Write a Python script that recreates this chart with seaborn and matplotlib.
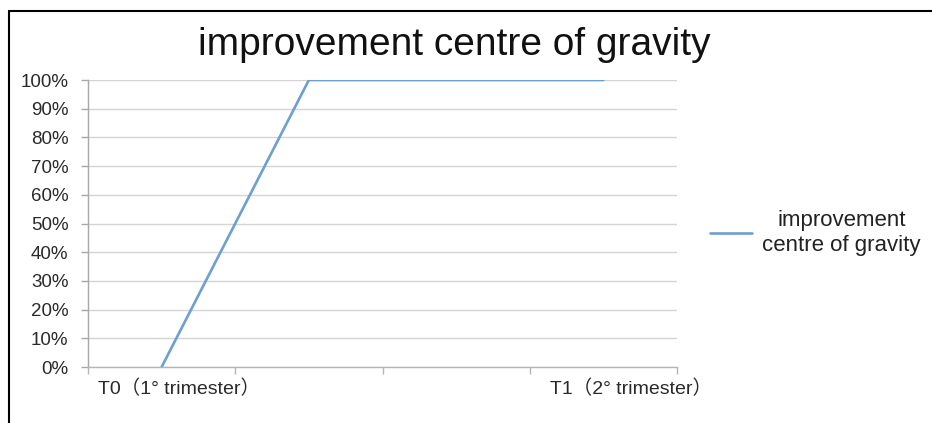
import matplotlib
matplotlib.use("Agg")
import matplotlib.pyplot as plt
import seaborn as sns
import pandas as pd
import numpy as np
from matplotlib.lines import Line2D
from matplotlib.ticker import FuncFormatter, FixedLocator
from matplotlib.transforms import blended_transform_factory, ScaledTranslation

# ---- data ----
categories = ["T0（1° trimester）", "", "", "T1（2° trimester）"]
values = [0.0, 1.0, 1.0, 1.0]
series_name = "improvement\ncentre of gravity"
title = "improvement centre of gravity"
yticks = [0, 0.1, 0.2, 0.3, 0.4, 0.5, 0.6, 0.7, 0.8, 0.9, 1.0]

sns.set_theme(style="white")
plt.rcParams["font.family"] = ["Liberation Sans", "Noto Sans CJK SC", "DejaVu Sans"]

W, H = 932, 423
fig = plt.figure(figsize=(W / 100, H / 100), dpi=100)
ax = fig.add_axes([88 / W, (H - 367) / H, (677 - 88) / W, (367 - 80) / H])

df = pd.DataFrame({"idx": np.arange(len(values)), "value": values, "series": series_name})
sns.lineplot(data=df, x="idx", y="value", hue="series", palette=["#6E9FD3"],
             linewidth=1.9, ax=ax)

n = len(categories)
ax.set_xlim(-0.5, n - 0.5)
ax.set_ylim(0, 1.0)
ax.set_xlabel("")
ax.set_ylabel("")

# y axis
ax.yaxis.set_major_locator(FixedLocator(yticks))
ax.yaxis.set_major_formatter(FuncFormatter(lambda v, p: f"{v*100:.0f}%"))
ax.grid(axis="y", color="#D4D4D4", linewidth=1.0)
ax.grid(axis="x", visible=False)
ax.tick_params(axis="y", length=5, width=1, color="#A8A8A8", pad=9,
               labelsize=13.5, labelcolor="#2A2A2A", left=True)

# x axis: boundary ticks, no labels
ax.xaxis.set_major_locator(FixedLocator(np.arange(n + 1) - 0.5))
ax.set_xticklabels([""] * (n + 1))
ax.tick_params(axis="x", length=5, width=1, color="#B5B5B5", bottom=True, direction="out")

trans = blended_transform_factory(ax.transData, ax.transAxes)
offsets = {0: 17, 3: 28}
for i, lab in enumerate(categories):
    if lab:
        t = trans + ScaledTranslation(offsets.get(i, 0) / 100, 0, fig.dpi_scale_trans)
        ax.text(i, -0.075, lab, transform=t, ha="center", va="center",
                fontsize=14, color="#2A2A2A")

for s in ["top", "right"]:
    ax.spines[s].set_visible(False)
ax.spines["left"].set_color("#A8A8A8")
ax.spines["bottom"].set_color("#B5B5B5")
ax.spines["left"].set_linewidth(1)
ax.spines["bottom"].set_linewidth(1)

# title
fig.text(454 / W, 1 - 45 / H, title, ha="center", va="center", fontsize=28, color="#111111")

# legend
leg = ax.legend(loc="center left", bbox_to_anchor=(690 / W, 1 - 233 / H),
                bbox_transform=fig.transFigure, frameon=False, fontsize=16,
                handlelength=1.9, handletextpad=0.45)
for txt in leg.get_texts():
    txt.set_multialignment("center")
    txt.set_color("#222222")

# figure frame (top and left)
fig.add_artist(Line2D([9 / W, 1], [1 - 11 / H, 1 - 11 / H], transform=fig.transFigure,
                      color="black", linewidth=1.5))
fig.add_artist(Line2D([9 / W, 9 / W], [0, 1 - 11 / H], transform=fig.transFigure,
                      color="black", linewidth=1.5))

fig.savefig("out.png", dpi=100)
